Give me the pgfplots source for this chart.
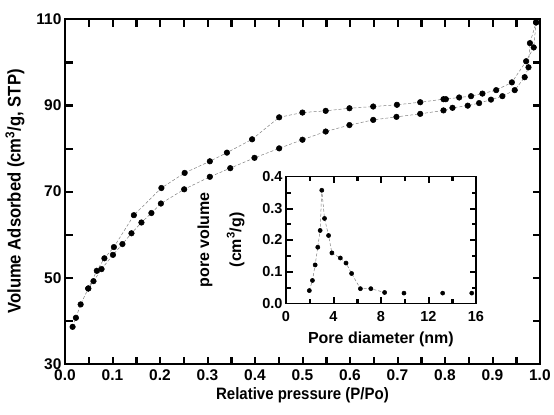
\documentclass[border=0pt]{standalone}
\usepackage{fontspec}
\setmainfont{Liberation Sans}
\newfontfamily\labfont{Liberation Sans Bold}[FakeStretch=0.91]
\usepackage{pgfplots}
\pgfplotsset{compat=1.18}

\pgfplotstableread{
x y
0.016 38.6
0.023 40.7
0.033 43.8
0.049 47.5
0.060 49.2
0.077 52.0
0.101 55.3
0.121 57.8
0.140 60.3
0.161 62.8
0.182 65.0
0.202 67.2
0.251 70.5
0.305 73.4
0.348 75.4
0.399 77.8
0.451 80.0
0.500 82.0
0.549 83.9
0.599 85.4
0.649 86.6
0.698 87.3
0.748 88.0
0.797 88.8
0.816 89.4
0.848 89.9
0.872 90.5
0.897 91.3
0.921 92.1
0.947 93.5
0.968 96.5
0.976 98.8
0.979 104.4
0.992 109.2
}\adsorption

\pgfplotstableread{
x y
0.992 109.2
0.987 103.4
0.971 100.2
0.941 95.3
0.908 93.5
0.879 92.7
0.855 92.1
0.830 91.8
0.802 91.4
0.797 91.4
0.748 90.7
0.699 90.1
0.649 89.7
0.599 89.3
0.549 88.7
0.500 88.3
0.451 87.2
0.394 82.1
0.341 79.0
0.305 77.0
0.252 74.3
0.203 70.8
0.145 64.5
0.103 57.1
0.083 54.5
0.067 51.6
0.049 47.5
}\desorption

\pgfplotstableread{
x y
1.97 0.040
2.23 0.072
2.46 0.121
2.68 0.177
2.88 0.230
3.02 0.357
3.25 0.268
3.59 0.214
3.87 0.159
4.58 0.143
5.06 0.127
5.53 0.094
6.27 0.046
7.15 0.046
8.31 0.034
}\poreA

\pgfplotstableread{
x y
9.94 0.032
13.2 0.032
15.65 0.032
}\poreB

\begin{document}
\begin{tikzpicture}
\path (-65pt,-51pt) rectangle (489pt,364pt);
\begin{axis}[
  scale only axis,
  width=475pt, height=345pt,
  xmin=0, xmax=1, ymin=30, ymax=110,
  xtick={0,0.1,...,1.0},
  ytick={30,50,70,90,110},
  major tick length=0pt, minor tick length=0pt,
  axis line style={line width=1.4pt},
  tick label style={font=\fontsize{15.5}{18}\selectfont\bfseries},
  /pgf/number format/assume math mode=true,
  xticklabel style={yshift=-2pt, /pgf/number format/.cd, fixed, fixed zerofill, precision=1},
  xlabel={Relative pressure (P/Po)},
  ylabel={Volume Adsorbed (cm\textsuperscript{3}/g, STP)},
  xlabel style={font=\fontsize{16.5}{19}\selectfont\labfont, yshift=0pt},
  ylabel style={font=\fontsize{18.3}{20}\selectfont\labfont, yshift=5pt},
  clip=false,
]
% inward tick marks (bottom / top)
\addplot[only marks, mark=square*, mark size=3.5pt, forget plot,
  mark options={xscale=0.18, fill=black, draw=none}] coordinates {
(0.05,30.81)(0.10,30.81)(0.15,30.81)(0.20,30.81)(0.25,30.81)(0.30,30.81)(0.35,30.81)
(0.40,30.81)(0.45,30.81)(0.50,30.81)(0.55,30.81)(0.60,30.81)(0.65,30.81)(0.70,30.81)
(0.75,30.81)(0.80,30.81)(0.85,30.81)(0.90,30.81)(0.95,30.81)
(0.05,109.19)(0.10,109.19)(0.15,109.19)(0.20,109.19)(0.25,109.19)(0.30,109.19)(0.35,109.19)
(0.40,109.19)(0.45,109.19)(0.50,109.19)(0.55,109.19)(0.60,109.19)(0.65,109.19)(0.70,109.19)
(0.75,109.19)(0.80,109.19)(0.85,109.19)(0.90,109.19)(0.95,109.19)
};
% inward tick marks (left / right)
\addplot[only marks, mark=square*, mark size=3.5pt, forget plot,
  mark options={yscale=0.18, fill=black, draw=none}] coordinates {
(0.0074,40)(0.0074,50)(0.0074,60)(0.0074,70)(0.0074,80)(0.0074,90)(0.0074,100)
(0.9926,40)(0.9926,50)(0.9926,60)(0.9926,70)(0.9926,80)(0.9926,90)(0.9926,100)
};
\addplot[densely dashed, gray, line width=0.5pt, mark=*, mark size=2.8pt,
  mark options={solid, fill=black, draw=black}] table[x=x, y=y] {\adsorption};
\addplot[densely dashed, gray, line width=0.5pt, mark=*, mark size=2.8pt,
  mark options={solid, fill=black, draw=black}] table[x=x, y=y] {\desorption};
\end{axis}
\begin{axis}[
  at={(221pt,60.7pt)}, anchor=south west,
  scale only axis,
  width=190pt, height=126.6pt,
  xmin=0, xmax=16, ymin=0, ymax=0.4,
  xtick={0,4,...,16},
  ytick={0,0.1,...,0.4},
  major tick length=0pt, minor tick length=0pt,
  axis line style={line width=1.2pt},
  axis background/.style={fill=white},
  tick label style={font=\fontsize{14.5}{17}\selectfont\bfseries},
  /pgf/number format/assume math mode=true,
  xticklabel style={yshift=-5pt},
  yticklabel style={/pgf/number format/.cd, fixed, fixed zerofill, precision=1},
  xlabel={Pore diameter (nm)},
  ylabel={pore volume\\[14pt](cm\textsuperscript{3}/g)},
  ylabel style={font=\fontsize{16}{18}\selectfont\bfseries, align=center, yshift=11pt},
  xlabel style={font=\fontsize{16}{18}\selectfont\bfseries, yshift=-3pt},
  clip=false,
]
% major and minor inward ticks of the inset
\addplot[only marks, mark=square*, mark size=3pt, forget plot,
  mark options={xscale=0.18, fill=black, draw=none}] coordinates {
(4,0.0095)(8,0.0095)(12,0.0095)(4,0.3905)(8,0.3905)(12,0.3905)
};
\addplot[only marks, mark=square*, mark size=2pt, forget plot,
  mark options={xscale=0.27, fill=black, draw=none}] coordinates {
(2,0.0063)(6,0.0063)(10,0.0063)(14,0.0063)(2,0.3937)(6,0.3937)(10,0.3937)(14,0.3937)
};
\addplot[only marks, mark=square*, mark size=3pt, forget plot,
  mark options={yscale=0.18, fill=black, draw=none}] coordinates {
(0.253,0.1)(0.253,0.2)(0.253,0.3)(15.747,0.1)(15.747,0.2)(15.747,0.3)
};
\addplot[only marks, mark=square*, mark size=2pt, forget plot,
  mark options={yscale=0.27, fill=black, draw=none}] coordinates {
(0.168,0.05)(0.168,0.15)(0.168,0.25)(0.168,0.35)(15.832,0.05)(15.832,0.15)(15.832,0.25)(15.832,0.35)
};
\addplot[densely dashed, gray, line width=0.5pt, mark=*, mark size=2.1pt,
  mark options={solid, fill=black, draw=black}] table[x=x, y=y] {\poreA};
\addplot[only marks, mark=*, mark size=2.1pt,
  mark options={fill=black, draw=black}] table[x=x, y=y] {\poreB};
\end{axis}
\end{tikzpicture}
\end{document}
